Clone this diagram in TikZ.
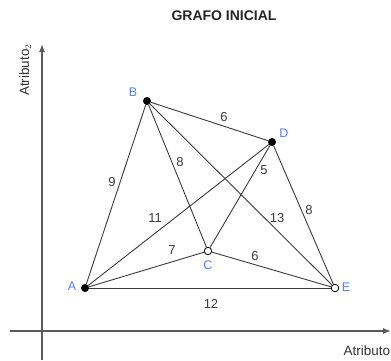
\documentclass[tikz,border=0pt]{standalone}
\usepackage{fontspec}
\setmainfont{Liberation Sans}
\usetikzlibrary{arrows.meta}
\definecolor{VertexBlue}{RGB}{85,125,240}
\definecolor{EdgeGray}{HTML}{3A3A3A}
\definecolor{AxisGray}{HTML}{5A5A5A}
\tikzset{
  vfull/.style={circle,draw=black,fill=black,inner sep=0pt,minimum size=7.5pt},
  vopen/.style={circle,draw=black,fill=white,line width=0.8pt,inner sep=0pt,minimum size=7.5pt},
  vname/.style={text=VertexBlue,font=\fontsize{12.5}{14}\selectfont},
  weight/.style={text=EdgeGray,font=\fontsize{13}{15}\selectfont},
  edge/.style={draw=EdgeGray,line width=0.9pt},
  axis/.style={draw=AxisGray,line width=1.3pt,-{Latex[length=8pt,width=6pt]}}
}
\begin{document}
\begin{tikzpicture}[x=1pt, y=-1pt, every node/.style={align=center}]
  \useasboundingbox (0,0) rectangle (391,360);
  % axes
  \coordinate (xs) at (10,331);
  \coordinate (xe) at (391,331);
  \coordinate (ys) at (42,360);
  \coordinate (ye) at (42,44);
  \draw[axis] (xs) -- (xe);
  \draw[axis] (ys) -- (ye);
  \node[font=\bfseries\fontsize{14}{16}\selectfont,text=black!85] (title) at (224,15.5) {GRAFO INICIAL};
  \node[rotate=90,anchor=base,font=\fontsize{13.5}{15}\selectfont,text=black!80] (ylab) at (29,70) {Atributo$_2$};
  \node[anchor=base west,font=\fontsize{13.5}{15}\selectfont,text=black!80] (xlab) at (340,355) {Atributo$_1$};
  % vertices
  \node[vfull] (A) at (85,288) {};
  \node[vfull] (B) at (147,101) {};
  \node[vopen] (C) at (208,251) {};
  \node[vfull] (D) at (272,142) {};
  \node[vopen] (E) at (335,288) {};
  \node[vname] at (72,286) {A};
  \node[vname] at (133,92) {B};
  \node[vname] at (208,265) {C};
  \node[vname] at (284,133) {D};
  \node[vname] at (346,287) {E};
  % edges
  \draw[edge] (A) -- (B);
  \draw[edge] (A) -- (D);
  \draw[edge] (A) -- (C);
  \draw[edge] (A) -- (E);
  \draw[edge] (B) -- (D);
  \draw[edge] (B) -- (C);
  \draw[edge] (B) -- (E);
  \draw[edge] (D) -- (C);
  \draw[edge] (D) -- (E);
  \draw[edge] (C) -- (E);
  % weights
  \node[weight] at (112,182) {9};
  \node[weight] at (180,162) {8};
  \node[weight] at (224,117) {6};
  \node[weight] at (264,170) {5};
  \node[weight] at (155,218) {11};
  \node[weight] at (277,218) {13};
  \node[weight] at (309,210) {8};
  \node[weight] at (172,250) {7};
  \node[weight] at (255,256) {6};
  \node[weight] at (211,304) {12};
\end{tikzpicture}
\end{document}
